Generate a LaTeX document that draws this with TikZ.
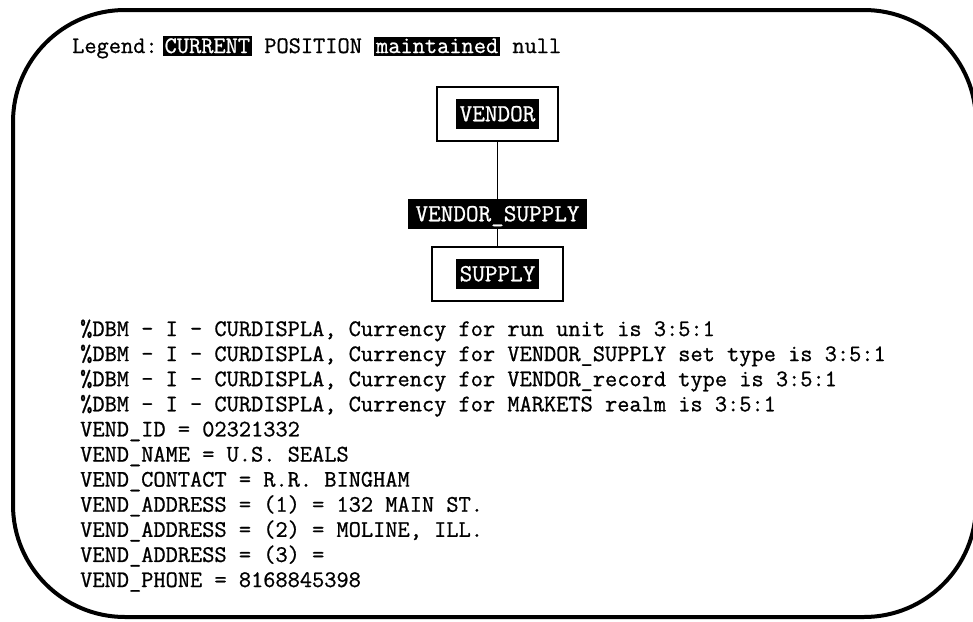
\documentclass[tikz,border=0pt]{standalone}
\usepackage{fontspec}
\usepackage{xcolor}
\newfontfamily\heavytt{Latin Modern Mono}[FakeBold=0.9]
\newcommand\lgbox[1]{{\setlength\fboxsep{2pt}\colorbox{black}{\rule[-1pt]{0pt}{15pt}\textcolor{white}{#1}}}}
\begin{document}
\begin{tikzpicture}[x=1pt,y=-1pt,
  txt/.style={anchor=base west, inner sep=0pt, font=\fontsize{23.7}{22.8}\selectfont\heavytt},
  entbox/.style={draw, line width=1.8pt, minimum width=#1, minimum height=54pt, inner sep=0pt},
  lbl/.style={fill=black, text=white, minimum width=#1, minimum height=30pt, inner sep=0pt,
    text height=14.5pt, text depth=0pt, font=\fontsize{24.5}{26}\selectfont\heavytt},
  link/.style={line width=1.8pt}]
\useasboundingbox (0,0) rectangle (973,621);
\draw[line width=4pt, rounded corners=112pt] (13,10) rectangle (976,617);
% legend
\node[txt] (legend) at (72,53) {Legend:\hspace{5pt}\lgbox{CURRENT} POSITION \lgbox{maintained} null};
% tree
\node[entbox=121pt] (vendorbox) at (497.5,114) {};
\node[lbl=83pt] (vendorlbl) at (vendorbox.center) {VENDOR};
\node[lbl=179pt] (vslbl) at (497.5,214) {VENDOR\_SUPPLY};
\node[entbox=131pt] (supplybox) at (497.5,274) {};
\node[lbl=83pt] (supplylbl) at (supplybox.center) {SUPPLY};
\draw[link] (vendorbox.south) -- (vslbl.north);
\draw[link] (vslbl.south) -- (supplybox.north);
% text lines
\foreach \t [count=\i] in {
  {\%DBM - I - CURDISPLA, Currency for run unit is 3:5:1},
  {\%DBM - I - CURDISPLA, Currency for VENDOR\_SUPPLY set type is 3:5:1},
  {\%DBM - I - CURDISPLA, Currency for VENDOR\_record type is 3:5:1},
  {\%DBM - I - CURDISPLA, Currency for MARKETS realm is 3:5:1},
  {VEND\_ID = 02321332},
  {VEND\_NAME = U.S. SEALS},
  {VEND\_CONTACT = R.R. BINGHAM},
  {VEND\_ADDRESS = (1) = 132 MAIN ST.},
  {VEND\_ADDRESS = (2) = MOLINE, ILL.},
  {VEND\_ADDRESS = (3) =},
  {VEND\_PHONE = 8168845398}}
  \node[txt] (line\i) at (80,{336+(\i-1)*25.1}) {\t};
\end{tikzpicture}
\end{document}
